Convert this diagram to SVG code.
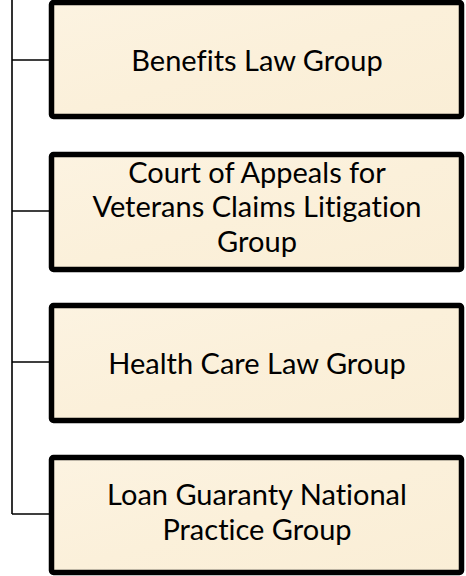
<svg xmlns="http://www.w3.org/2000/svg" width="466" height="576" viewBox="0 0 466 576">
<defs>
<linearGradient id="parch" x1="0" y1="0" x2="1" y2="1">
<stop offset="0" stop-color="#FCF3E1"/>
<stop offset="0.5" stop-color="#FBF0DA"/>
<stop offset="1" stop-color="#FAEED6"/>
</linearGradient>
<style>
.box{fill:url(#parch);stroke:#000;stroke-width:5.5;stroke-linejoin:round}
.lbl{font-family:Lato,"Liberation Sans",sans-serif;font-size:29px;fill:#000;text-anchor:middle;font-variant-ligatures:none}
.conn{stroke:#000;stroke-width:1.6;fill:none}
</style>
</defs>
<g id="connectors">
<path class="conn" d="M12 0 V514 M12 60 H52 M12 211 H52 M12 362 H52 M12 514 H52"/>
</g>
<g id="n1">
<rect class="box" x="51.5" y="2.5" width="410" height="114" rx="2"/>
<text class="lbl" x="257" y="71">Benefits Law Group</text>
</g>
<g id="n2">
<rect class="box" x="51.5" y="154.5" width="410" height="115" rx="2"/>
<text class="lbl" x="257" y="183">Court of Appeals for</text>
<text class="lbl" x="257" y="217">Veterans Claims Litigation</text>
<text class="lbl" x="257" y="252">Group</text>
</g>
<g id="n3">
<rect class="box" x="51.5" y="305.5" width="410" height="115" rx="2"/>
<text class="lbl" x="257" y="374">Health Care Law Group</text>
</g>
<g id="n4">
<rect class="box" x="51.5" y="457.5" width="410" height="115" rx="2"/>
<text class="lbl" x="257" y="505">Loan Guaranty National</text>
<text class="lbl" x="257" y="540">Practice Group</text>
</g>
</svg>
